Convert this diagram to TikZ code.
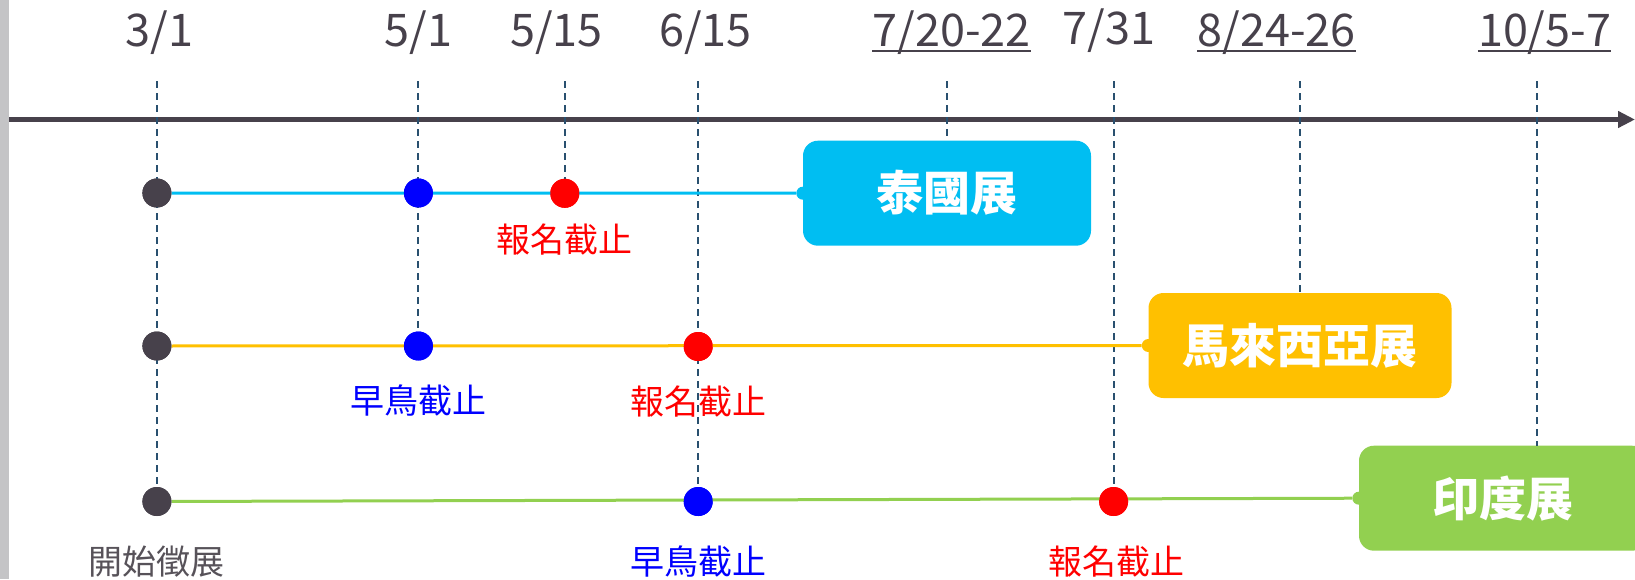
\documentclass[tikz,border=0pt]{standalone}
\usepackage{fontspec}
\newfontfamily\cjk{Noto Sans CJK TC}
\usetikzlibrary{arrows.meta}
\definecolor{axisc}{HTML}{47414B}
\definecolor{dashc}{HTML}{29506F}
\definecolor{thaic}{HTML}{00BEF2}
\definecolor{malayc}{HTML}{FFC000}
\definecolor{indiac}{HTML}{92D050}
\definecolor{labgray}{HTML}{575259}
\definecolor{stripc}{HTML}{C4C4C6}
\definecolor{dotdark}{HTML}{47414B}
\definecolor{dotblue}{HTML}{0000FF}
\definecolor{dotred}{HTML}{FF0000}
\begin{document}
\begin{tikzpicture}[x=1pt,y=-1pt,
  date/.style={font=\cjk\fontsize{45}{45}\selectfont, text=axisc, inner sep=0pt, anchor=base},
  uline/.style={draw=axisc, line width=2pt},
  guide/.style={draw=dashc, line width=1.9pt, dash pattern=on 7pt off 5pt},
  dot/.style={circle, inner sep=0pt, minimum size=29pt},
  lab/.style={font=\cjk\fontsize{34}{34}\selectfont, inner sep=0pt},
  box/.style={rounded corners=15pt, minimum height=105pt, inner sep=0pt, text=white, font=\cjk\bfseries\fontsize{47}{47}\selectfont},
  nub/.style={circle, inner sep=0pt, minimum size=13pt},
  rowline/.style={line width=3pt}
]
\useasboundingbox (0,0) rectangle (1635,579);
\fill[stripc] (0,0) rectangle (9,579);

% date labels
\node[date] (d31)  at (159.5,46.7) {3/1};
\node[date] (d51)  at (418.4,46.7) {5/1};
\node[date] (d515) at (556.5,46.7) {5/15};
\node[date] (d615) at (705.3,46.7) {6/15};
\node[date] (d720) at (951.5,46.7) {7/20-22};
\node[date] (d731) at (1109.2,44.3) {7/31};
\node[date] (d824) at (1276.6,46.7) {8/24-26};
\node[date] (d105) at (1544.6,46.7) {10/5-7};
\foreach \n in {d720,d824,d105}
  \draw[uline] ([yshift=-4pt]\n.base west) -- ([yshift=-4pt]\n.base east);

% guide tops
\coordinate (g31)  at (156.9,81);
\coordinate (g51)  at (418.4,81);
\coordinate (g515) at (564.8,81);
\coordinate (g615) at (698.2,81);
\coordinate (g720) at (947.3,81);
\coordinate (g731) at (1113.6,81);
\coordinate (g824) at (1299.8,81);
\coordinate (g105) at (1536.8,81);

% axis
\coordinate (ax0) at (9,119.5);
\coordinate (ax1) at (1635,119.5);
\draw[axisc, line width=5pt, -{Triangle[length=17pt,width=16pt]}] (ax0) -- (ax1);

% boxes
\node[box, fill=thaic, minimum width=288pt] (thai) at (947,193.2) {泰國展};
\node[box, fill=malayc, minimum width=303pt] (malay) at (1300,345.5) {馬來西亞展};
\node[box, fill=indiac, minimum width=288pt] (india) at (1503,498.2) {印度展};
\node[nub, fill=thaic] (n1) at (thai.west) {};
\node[nub, fill=malayc] (n2) at (malay.west) {};
\node[nub, fill=indiac] (n3) at (india.west) {};

% dots
\node[dot, fill=dotdark] (r1a) at (156.9,193) {};
\node[dot, fill=dotblue] (r1b) at (418.4,193) {};
\node[dot, fill=dotred]  (r1c) at (564.8,193.3) {};
\node[dot, fill=dotdark] (r2a) at (156.9,346) {};
\node[dot, fill=dotblue] (r2b) at (418.4,346) {};
\node[dot, fill=dotred]  (r2c) at (698.2,346.5) {};
\node[dot, fill=dotdark] (r3a) at (156.9,501.5) {};
\node[dot, fill=dotblue] (r3b) at (698.2,501.5) {};
\node[dot, fill=dotred]  (r3c) at (1113.6,501.5) {};

% guides
\draw[guide] (g31) -- (r3a);
\draw[guide] (g51) -- (r2b);
\draw[guide] (g515) -- (r1c);
\draw[guide] (g615) -- (r3b);
\draw[guide] (g720) -- (g720 |- thai.north);
\draw[guide] (g731) -- (r3c);
\draw[guide] (g824) -- (g824 |- malay.north);
\draw[guide] (g105) -- (g105 |- india.north);

% row lines
\draw[rowline, thaic] (r1a) -- (n1);
\draw[rowline, malayc] (r2a) -- (n2);
\draw[rowline, indiac] (r3a) -- (n3);

% redraw dots on top
\foreach \n/\c in {r1a/dotdark,r1b/dotblue,r1c/dotred,r2a/dotdark,r2b/dotblue,r2c/dotred,r3a/dotdark,r3b/dotblue,r3c/dotred}
  \fill[\c] (\n) circle (14.5pt);

% labels
\node[lab, text=dotred]  (l1c) at (564.8,240) {報名截止};
\node[lab, text=dotblue] (l2b) at (418.4,400.8) {早鳥截止};
\node[lab, text=dotred]  (l2c) at (698.2,401.7) {報名截止};
\node[lab, text=labgray] (l3a) at (156.9,561.7) {開始徵展};
\node[lab, text=dotblue] (l3b) at (698.2,562) {早鳥截止};
\node[lab, text=dotred]  (l3c) at (1116,561.7) {報名截止};
\end{tikzpicture}
\end{document}
